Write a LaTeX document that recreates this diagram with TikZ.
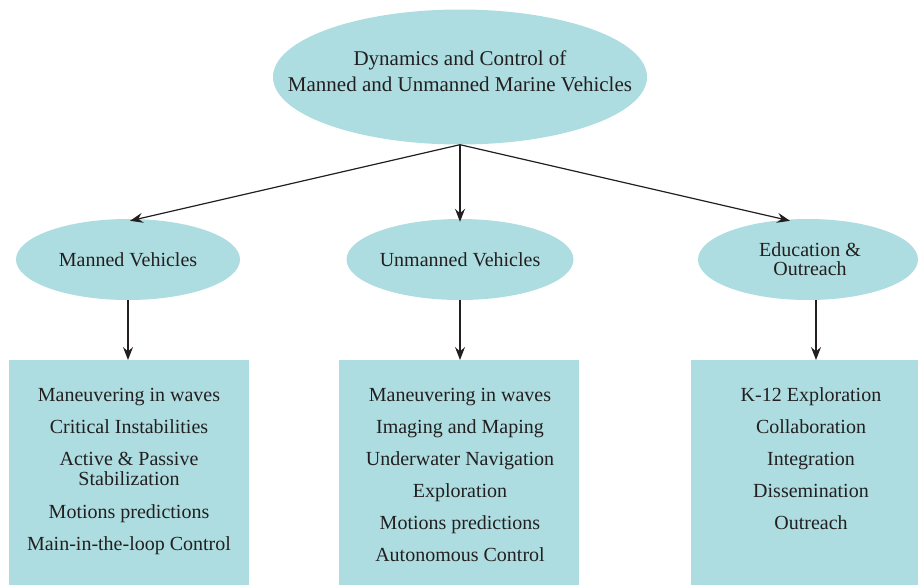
\documentclass[tikz,border=0pt]{standalone}
\usepackage{fontspec}
\setmainfont{Liberation Serif}
\usetikzlibrary{shapes.geometric,arrows.meta}
\definecolor{fillc}{HTML}{ADDDE0}
\definecolor{txt}{HTML}{231F20}
\begin{document}
\begin{tikzpicture}[x=1pt,y=-1pt,
  ell/.style={ellipse,fill=fillc,draw=none,inner sep=0pt,text=txt,align=center,
    font=\fontsize{20}{19}\selectfont},
  boxc/.style={rectangle,fill=fillc,draw=none,inner sep=0pt,anchor=north west,
    minimum width=240pt,minimum height=225pt},
  items/.style={inner sep=0pt,anchor=north,align=center,text=txt,
    font=\fontsize{20}{20}\selectfont},
  arr/.style={draw=txt,line width=1.2pt,-{Stealth[length=13pt,width=10pt,inset=4.5pt]}}]
\useasboundingbox (0,0) rectangle (918,584);
\clip (0,0) rectangle (918,584);
% top
\node[ell,minimum width=374pt,minimum height=135pt] (root) at (460,77) {};
\node[inner sep=0pt,align=center,text=txt,font=\fontsize{21}{26}\selectfont] (roottext) at (460,71)
  {Dynamics and Control of\\Manned and Unmanned Marine Vehicles};
% second level
\node[ell,minimum width=224pt,minimum height=81pt] (man) at (128,259.5) {Manned Vehicles};
\node[ell,minimum width=225pt,minimum height=81pt] (unm) at (460,259.5) {Unmanned Vehicles};
\node[ell,minimum width=220pt,minimum height=81pt] (edu) at (808,259.5) {};
\node[inner sep=0pt,align=center,text=txt,font=\fontsize{20}{19}\selectfont] (edutext) at (810,259.5) {Education \&\\Outreach};
% boxes
\node[boxc] (mbox) at (9,360) {};
\node[boxc] (ubox) at (339,360) {};
\node[boxc] (ebox) at (691,360) {};
% box texts
\node[items] (mtext) at (129,388) {Maneuvering in waves\\[12pt]Critical Instabilities\\[12pt]Active \& Passive\\Stabilization\\[13pt]Motions predictions\\[12pt]Main-in-the-loop Control};
\node[items] (utext) at (460,388) {Maneuvering in waves\\[12pt]Imaging and Maping\\[12pt]Underwater Navigation\\[12pt]Exploration\\[12pt]Motions predictions\\[12pt]Autonomous Control};
\node[items] (etext) at (811,387) {K-12 Exploration\\[12pt]Collaboration\\[12pt]Integration\\[12pt]Dissemination\\[12pt]Outreach};
% connectors
\draw[arr] (root.south) -- ([xshift=2pt,yshift=-2pt]man.north);
\draw[arr] (root.south) -- ([yshift=-3pt]unm.north);
\draw[arr] (root.south) -- ([xshift=-18pt,yshift=-2pt]edu.north);
\draw[arr] (man.south) -- (man.south |- mbox.north);
\draw[arr] (unm.south) -- (unm.south |- ubox.north);
\draw[arr] ([xshift=8pt]edu.south) -- ([xshift=8pt]edu.south |- ebox.north);
\end{tikzpicture}
\end{document}
